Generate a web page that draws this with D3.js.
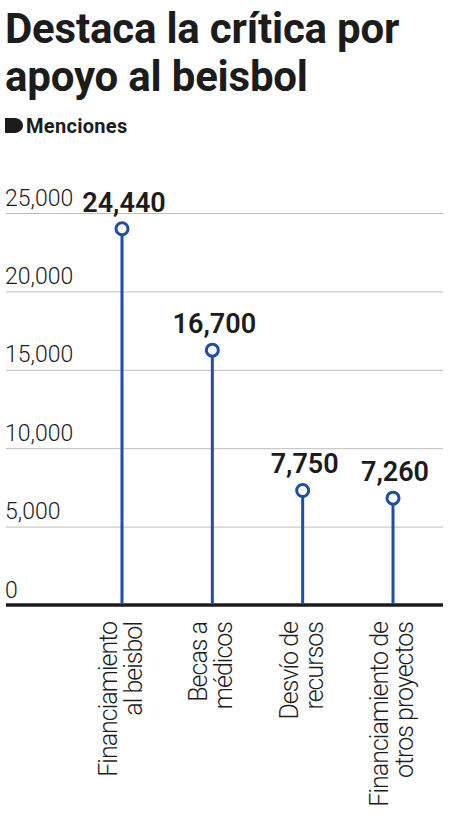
<!DOCTYPE html>
<html>
<head>
<meta charset="utf-8">
<script src="https://cdn.jsdelivr.net/npm/d3@7"></script>
<style>
  body { margin: 0; background: #fff; }
  svg { display: block; }
</style>
</head>
<body>
<div id="chart"></div>
<script>
// Data
const titleLines = ["Destaca la crítica por", "apoyo al beisbol"];
const subtitle = "Menciones";
const categories = ["Financiamiento al beisbol", "Becas a médicos", "Desvío de recursos", "Financiamiento de otros proyectos"];
const categoryLines = [
    ["Financiamiento", "al beisbol"],
    ["Becas a", "médicos"],
    ["Desvío de", "recursos"],
    ["Financiamiento de", "otros proyectos"]
];
const mentions = [24440, 16700, 7750, 7260];
const yTicks = [0, 5000, 10000, 15000, 20000, 25000];

// Configuration
const width = 450;
const height = 831;
const blue = "#1e4ea5";
const ink = "#1c1c1c";
const r = 6;

const svg = d3.select("#chart")
    .append("svg")
    .attr("width", width)
    .attr("height", height)
    .style("background-color", "#fff");

// Title
svg.append("g")
    .selectAll("text")
    .data(titleLines)
    .enter()
    .append("text")
    .attr("x", 5)
    .attr("y", (d, i) => 43 + i * 48)
    .attr("fill", ink)
    .style("font-family", "Roboto, sans-serif")
    .style("font-weight", 700)
    .style("font-size", "42px")
    .style("letter-spacing", "-0.2px")
    .text(d => d);

// Subtitle with tab marker
svg.append("path")
    .attr("d", "M5,118 H16 Q23,120 23,125.5 Q23,131 16,133 H5 Z")
    .attr("fill", ink);

svg.append("text")
    .attr("x", 26)
    .attr("y", 133)
    .attr("fill", ink)
    .style("font-family", "Roboto, sans-serif")
    .style("font-weight", 700)
    .style("font-size", "20px")
    .style("letter-spacing", "0.3px")
    .text(subtitle);

// Scales
const x = d3.scalePoint()
    .domain(categories)
    .range([122, 393]);

const y = d3.scaleLinear()
    .domain([0, 25000])
    .range([605, 213]);

// Grid + tick labels
const axis = d3.axisRight(y)
    .tickValues(yTicks)
    .tickSize(437)
    .tickFormat(d3.format(","));

const axisGroup = svg.append("g")
    .attr("transform", "translate(6,0)")
    .call(axis);

axisGroup.select(".domain").remove();
axisGroup.selectAll(".tick line")
    .attr("stroke", "#bdbdbd")
    .attr("stroke-width", 1);
axisGroup.selectAll(".tick text")
    .attr("x", -1)
    .attr("dy", -8)
    .attr("text-anchor", "start")
    .attr("fill", ink)
    .style("font-family", "Roboto, sans-serif")
    .style("font-weight", 300)
    .style("font-size", "23px");

// Baseline
svg.append("line")
    .attr("x1", 6)
    .attr("x2", 443)
    .attr("y1", y(0))
    .attr("y2", y(0))
    .attr("stroke", ink)
    .attr("stroke-width", 3.5);

// Lollipops
const rows = categories.map((c, i) => ({ cat: c, value: mentions[i], lines: categoryLines[i] }));
const cy = d => y(d.value) + r + 1;

const pops = svg.append("g")
    .selectAll("g")
    .data(rows)
    .enter()
    .append("g");

pops.append("line")
    .attr("x1", d => x(d.cat))
    .attr("x2", d => x(d.cat))
    .attr("y1", y(0) - 1.5)
    .attr("y2", cy)
    .attr("stroke", blue)
    .attr("stroke-width", 3);

pops.append("circle")
    .attr("cx", d => x(d.cat))
    .attr("cy", cy)
    .attr("r", r)
    .attr("fill", "#fff")
    .attr("stroke", blue)
    .attr("stroke-width", 3);

pops.append("text")
    .attr("x", d => x(d.cat) + 2)
    .attr("y", d => cy(d) - 17)
    .attr("text-anchor", "middle")
    .attr("fill", ink)
    .style("font-family", "Roboto, sans-serif")
    .style("font-weight", 600)
    .style("font-size", "27px")
    .text(d => d3.format(",")(d.value));

// Category labels (rotated, two lines)
const labels = svg.append("g")
    .selectAll("g")
    .data(rows)
    .enter()
    .append("g")
    .attr("transform", d => `translate(${x(d.cat)},622) rotate(-90)`);

labels.selectAll("text")
    .data(d => d.lines)
    .enter()
    .append("text")
    .attr("x", 0)
    .attr("y", (d, i) => i === 0 ? -5 : 20)
    .attr("text-anchor", "end")
    .attr("fill", ink)
    .style("font-family", "Roboto, sans-serif")
    .style("font-weight", 300)
    .style("font-size", "25px")
    .style("letter-spacing", "-1px")
    .text(d => d);
</script>
</body>
</html>
